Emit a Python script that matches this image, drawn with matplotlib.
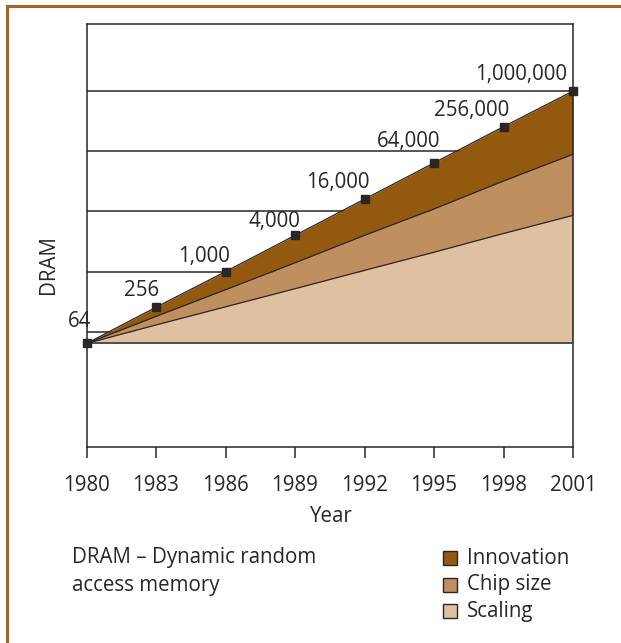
import numpy as np
import matplotlib.pyplot as plt
from matplotlib.patches import Rectangle
from matplotlib.lines import Line2D

plt.rcParams['font.family'] = ['Open Sans', 'DejaVu Sans']
FS = 14.8

# DRAM bits per chip, and the split of the growth into its three causes
years = [1980, 1983, 1986, 1989, 1992, 1995, 1998, 2001]
total = [64, 256, 1000, 4000, 16000, 64000, 256000, 1000000]
chip_size_top = [64, 180, 500, 1400, 4000, 11000, 32000, 89000]
scaling_top = [64, 130, 260, 520, 1050, 2100, 4300, 8600]
point_labels = ['64', '256', '1,000', '4,000', '16,000', '64,000', '256,000', '1,000,000']
legend_names = ['Innovation', 'Chip size', 'Scaling']

c_innov = '#93590f'
c_chip = '#bf8f60'
c_scal = '#dfc1a1'
dark = '#2a2627'

fig = plt.figure(figsize=(6.21, 6.43), dpi=100)
W, H = 621, 643
ax = fig.add_axes([86.5 / W, 1 - 447 / H, (573 - 86.5) / W, (447 - 24) / H])

ax.set_yscale('log')
ax.set_xlim(1980, 2001)
ax.set_ylim(1.22, 1.3e7)

# decade lines sit behind the filled bands
for v in [1e2, 1e3, 1e4, 1e5, 1e6]:
    ax.axhline(v, color=dark, lw=1.1, zorder=1)

base = np.full(len(years), total[0])
ax.fill_between(years, base, scaling_top, color=c_scal, lw=0, zorder=2)
ax.fill_between(years, scaling_top, chip_size_top, color=c_chip, lw=0, zorder=2)
ax.fill_between(years, chip_size_top, total, color=c_innov, lw=0, zorder=2)
for s in [scaling_top, chip_size_top, total]:
    ax.plot(years, s, color=dark, lw=0.9, zorder=3)
ax.plot([years[0], years[-1]], [total[0], total[0]], color='#444444', lw=1.3, zorder=3)
ax.plot([years[-1], years[-1]], [total[0], total[-1]], color=dark, lw=0.9, zorder=3)

ax.plot(years, total, ls='none', marker='s', ms=6, color=dark, zorder=5, clip_on=False)

# value labels up and to the left of each point
dx = [5, 3, 4, 5, 5, 6, 6, -6]
dy = [11, 6, 5, 3, 6, 11, 6, 6]
for x, y, t, ox, oy in zip(years, total, point_labels, dx, dy):
    ax.annotate(t, (x, y), xytext=(ox * 0.72, oy * 0.72), textcoords='offset points',
                ha='right', va='bottom', fontsize=FS, color=dark, zorder=6)

ax.set_xticks(years)
ax.set_xticklabels([str(y) for y in years])
ax.set_yticks([])
ax.yaxis.set_minor_locator(plt.NullLocator())
ax.tick_params(axis='x', direction='out', length=8, width=1.1, color=dark,
               labelsize=FS, labelcolor=dark, pad=12)
for sp in ax.spines.values():
    sp.set_color(dark)
    sp.set_linewidth(1.1)

fig.text(330 / W, 1 - 516 / H, 'Year', ha='center', va='center', fontsize=FS, color=dark)
fig.text(48 / W, 1 - 265 / H, 'DRAM', ha='center', va='center', rotation=90,
         fontsize=FS, color=dark)
fig.text(72 / W, 1 - 558 / H, 'DRAM – Dynamic random', ha='left', va='center',
         fontsize=FS, color=dark)
fig.text(72 / W, 1 - 586 / H, 'access memory', ha='left', va='center',
         fontsize=FS, color=dark)

# legend swatches
for i, (name, col) in enumerate(zip(legend_names, [c_innov, c_chip, c_scal])):
    yc = 558 + 26.5 * i
    fig.patches.append(Rectangle((443 / W, 1 - (yc + 7) / H), 14 / W, 14 / H,
                                 transform=fig.transFigure, facecolor=col,
                                 edgecolor=dark, lw=1.0))
    fig.text(467 / W, 1 - yc / H, name, ha='left', va='center', fontsize=FS, color=dark)

# frame round the figure
frame = '#a5651a'
fig.lines.append(Line2D([7 / W, 7 / W], [0, 1 - 6 / H], transform=fig.transFigure,
                        color=frame, lw=2.2))
fig.lines.append(Line2D([7 / W, 1], [1 - 6 / H, 1 - 6 / H], transform=fig.transFigure,
                        color=frame, lw=2.2))

fig.savefig('out.png', dpi=100)
